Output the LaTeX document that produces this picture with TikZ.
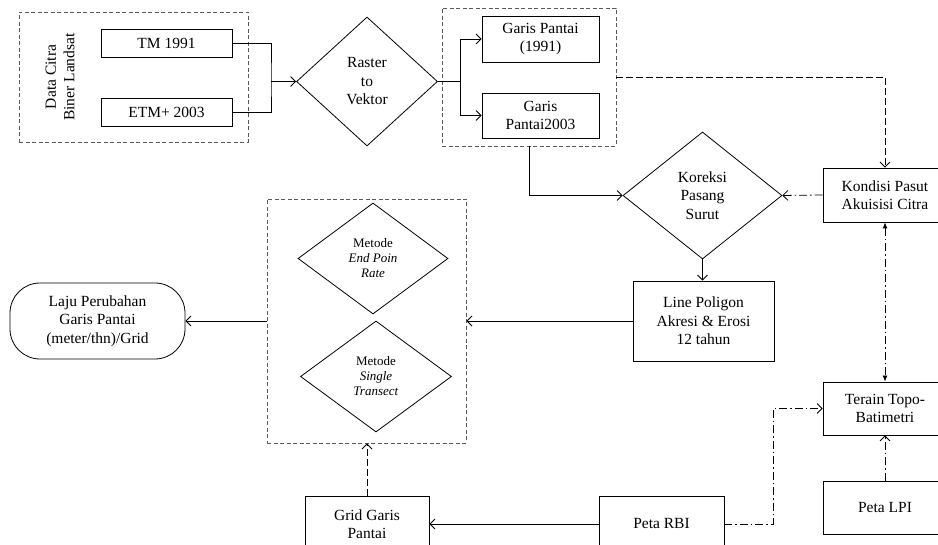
\documentclass[tikz,border=0pt]{standalone}
\usepackage{fontspec}
\setmainfont{Liberation Serif}
\usetikzlibrary{shapes.geometric,arrows.meta}
\begin{document}
\begin{tikzpicture}[x=1pt,y=-1pt,
  every node/.style={font=\fontsize{15.5}{18.5}\selectfont, align=center, inner sep=0pt},
  box/.style={draw, line width=0.8pt},
  dbox/.style={draw=black!65, line width=0.9pt, dash pattern=on 4pt off 2.5pt},
  dia/.style={draw, diamond, line width=0.8pt, aspect=1},
  small/.style={font=\fontsize{13}{15}\selectfont},
  arr/.style={line width=0.8pt, -{Straight Barb[length=5pt,width=10pt]}},
  dasharr/.style={arr, dash pattern=on 7pt off 3pt},
  ddash/.style={line width=0.8pt, dash pattern=on 8pt off 3pt on 1.5pt off 3pt},
  ddarr/.style={arr, ddash},
]
\useasboundingbox (0,0) rectangle (938,545);
\clip (0,0) rectangle (938,545);

\node[dbox, minimum width=229, minimum height=130] (box1) at (133.5,77) {};
\node[rotate=90] (data) at (60,77) {Data Citra\\Biner Landsat};
\node[box, minimum width=131, minimum height=28] (tm) at (166.5,43) {TM 1991};
\node[box, minimum width=131, minimum height=28] (etm) at (166.5,112) {ETM+ 2003};
\node[dia, minimum width=141, minimum height=129] (raster) at (367,81.5) {Raster\\to\\Vektor};
\node[dbox, minimum width=174, minimum height=138] (box2) at (529,77) {};
\node[box, minimum width=117, minimum height=46] (gp1) at (540.5,39) {Garis Pantai\\(1991)};
\node[box, minimum width=117, minimum height=45] (gp2) at (540.5,115.5) {Garis\\Pantai2003};
\node[dia, minimum width=159, minimum height=127] (kor) at (702.5,195.5) {Koreksi\\Pasang\\Surut};
\node[box, minimum width=124, minimum height=54] (kon) at (885,195) {Kondisi Pasut\\Akuisisi Citra};
\node[box, minimum width=141, minimum height=80] (lp) at (703.5,321) {Line Poligon\\Akresi \& Erosi\\12 tahun};
\node[dbox, minimum width=199, minimum height=244] (box3) at (366.5,321) {};
\node[dia, small, minimum width=150, minimum height=111] (epr) at (373,258.5) {Metode\\\textit{End Poin}\\\textit{Rate}};
\node[dia, small, minimum width=151, minimum height=111] (st) at (376,376.5) {Metode\\\textit{Single}\\\textit{Transect}};
\node[box, rounded corners=30pt, minimum width=175, minimum height=76] (laju) at (97.5,321) {Laju Perubahan\\Garis Pantai\\(meter/thn)/Grid};
\node[box, minimum width=124, minimum height=56] (grid) at (367,524) {Grid Garis\\Pantai};
\node[box, minimum width=125, minimum height=56] (rbi) at (661.5,524) {Peta RBI};
\node[box, minimum width=124, minimum height=53] (ter) at (885,408.5) {Terain Topo-\\Batimetri};
\node[box, minimum width=124, minimum height=53] (lpi) at (885,507.5) {Peta LPI};

\coordinate (j1) at (271,81.5);
\draw[line width=0.8pt] (tm.east) -| (j1) |- (etm.east);
\draw[arr] (j1) -- (raster.west);
\coordinate (j2) at (460,81.5);
\draw[line width=0.8pt] (raster.east) -- (j2);
\draw[arr] (j2) |- (gp1.west);
\draw[arr] (j2) |- (gp2.west);
\draw[dasharr] (box2.east) -| (kon.north);
\draw[arr] (box2.south) |- (kor.west);
\draw[ddarr] (kon.west) -- (kor.east);
\draw[arr] (kor.south) -- (kor.south |- lp.north);
\draw[arr] (lp.west) -- (box3.east);
\draw[arr] (box3.west) -- (laju.east);
\draw[dasharr] (grid.north) -- (grid.north |- box3.south);
\draw[arr] (rbi.west) -- (grid.east);
\coordinate (j3) at (773,524);
\draw[ddarr] (rbi.east) -- (j3) |- (ter.west);
\draw[ddarr] (lpi.north) -- (ter.south);
\draw[ddash, {Latex[length=6pt,width=5pt]}-{Latex[length=6pt,width=5pt]}] (kon.south) -- (ter.north);
\end{tikzpicture}
\end{document}
